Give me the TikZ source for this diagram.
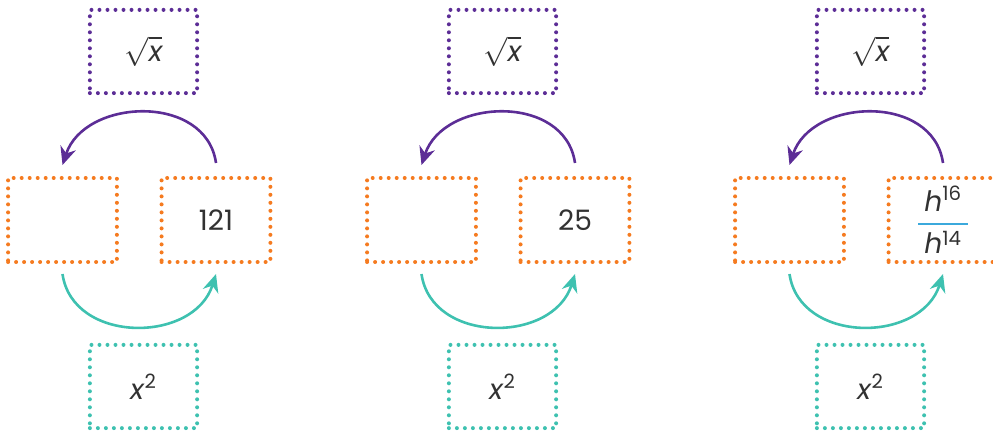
\documentclass[tikz,border=0pt]{standalone}
\usepackage{amsmath}
\usepackage{fontspec}
\setmainfont{Poppins}
\usepackage{xcolor}
\usepackage{tikz}
\usetikzlibrary{arrows.meta}
\definecolor{fnpurple}{RGB}{92,45,150}
\definecolor{fnorange}{RGB}{245,123,32}
\definecolor{fnteal}{RGB}{62,193,176}
\definecolor{fntext}{RGB}{50,50,50}
\definecolor{fracblue}{RGB}{59,169,220}

\begin{document}
\begin{tikzpicture}[x=0.025cm, y=-0.025cm,
  dotbox/.style={draw=#1, line width=0.1cm, line cap=round, dash pattern=on 0pt off 0.2cm,
    minimum width=2.68cm, minimum height=2.08cm, text=fntext, font=\fontsize{20}{24}\selectfont},
  fnbox/.style={dotbox=fnpurple}, sqbox/.style={dotbox=fnteal},
  valbox/.style={dotbox=fnorange, minimum width=2.72cm, minimum height=2.1cm},
  purarr/.style={draw=fnpurple, line width=0.065cm, -{Stealth[length=0.45cm, width=0.4cm]}},
  tealarr/.style={draw=fnteal, line width=0.065cm, -{Stealth[length=0.45cm, width=0.4cm]}}]
\useasboundingbox (0,0) rectangle (993,432);
% panel 1
\node[fnbox] (t1) at (143.5,51.5) {$\sqrt{\textit{x}}$};
\node[valbox] (l1) at (62.5,220) {};
\node[valbox] (r1) at (216,220) {121};
\node[sqbox] (b1) at (143.5,386.5) {\textit{x}\textsuperscript{2}};
\draw[purarr] ([yshift=0.325cm]r1.north) .. controls +(-10,-70) and +(22,-67) .. ([yshift=0.275cm]l1.north);
\draw[tealarr] ([yshift=-0.25cm]l1.south) .. controls +(10,70) and +(-22,70) .. ([yshift=-0.25cm]r1.south);
% panel 2
\node[fnbox] (t2) at (502.5,51.5) {$\sqrt{\textit{x}}$};
\node[valbox] (l2) at (421.5,220) {};
\node[valbox] (r2) at (575,220) {25};
\node[sqbox] (b2) at (502.5,386.5) {\textit{x}\textsuperscript{2}};
\draw[purarr] ([yshift=0.325cm]r2.north) .. controls +(-10,-70) and +(22,-67) .. ([yshift=0.275cm]l2.north);
\draw[tealarr] ([yshift=-0.25cm]l2.south) .. controls +(10,70) and +(-22,70) .. ([yshift=-0.25cm]r2.south);
% panel 3
\node[fnbox] (t3) at (870.5,51.5) {$\sqrt{\textit{x}}$};
\node[valbox] (l3) at (789.5,220) {};
\node[valbox] (r3) at (943,220) {$\color{fracblue}\genfrac{}{}{0.05cm}{0}{\color{fntext}\hspace{0.15cm}\textit{h}\textsuperscript{16}\hspace{0.15cm}}{\color{fntext}\textit{h}\textsuperscript{14}}$};
\node[sqbox] (b3) at (870.5,386.5) {\textit{x}\textsuperscript{2}};
\draw[purarr] ([yshift=0.325cm]r3.north) .. controls +(-10,-70) and +(22,-67) .. ([yshift=0.275cm]l3.north);
\draw[tealarr] ([yshift=-0.25cm]l3.south) .. controls +(10,70) and +(-22,70) .. ([yshift=-0.25cm]r3.south);
\end{tikzpicture}
\end{document}
